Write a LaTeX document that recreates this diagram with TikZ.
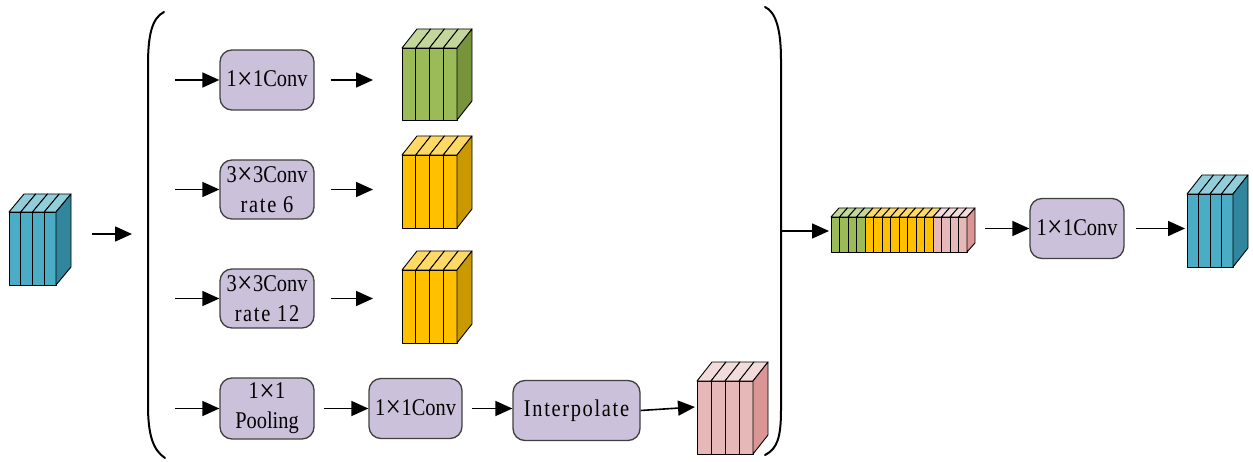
\documentclass[tikz,border=0pt]{standalone}
\usepackage{fontspec}
\setmainfont{Liberation Serif}
\newfontfamily\boxfont[FakeStretch=0.85]{Liberation Serif}
\usetikzlibrary{arrows.meta}

\definecolor{boxfill}{HTML}{CCC1DA}
\definecolor{boxline}{HTML}{404040}
% palettes: F = front, T = top, S = side
\definecolor{blueF}{HTML}{4BACC6}
\definecolor{blueT}{HTML}{92CDDC}
\definecolor{blueS}{HTML}{31859C}
\definecolor{greenF}{HTML}{9BBB59}
\definecolor{greenT}{HTML}{C3D69B}
\definecolor{greenS}{HTML}{77933C}
\definecolor{goldF}{HTML}{FFC000}
\definecolor{goldT}{HTML}{FFD966}
\definecolor{goldS}{HTML}{C99A00}
\definecolor{pinkF}{HTML}{E6B9B8}
\definecolor{pinkT}{HTML}{F2DCDB}
\definecolor{pinkS}{HTML}{D99694}

\tikzset{
  op/.style={draw=boxline, fill=boxfill, line width=1.3pt, rounded corners=12pt,
    minimum width=94pt, minimum height=60pt, align=center, inner sep=0pt,
    font=\boxfont\fontsize{24}{30}\selectfont},
  flow/.style={line width=1.6pt, -{Triangle[length=17pt,width=15pt]}},
  cube line/.style={draw=black, line width=0.9pt, line join=round},
  brace line/.style={line width=2pt, line cap=round}
}

% stacked feature slices: left, top, slice width, height, count, depth x, depth y, palette
\newcommand\slabs[8]{%
  \foreach \k in {1,...,#5}{
    \filldraw[cube line, fill=#8F] ({#1+(\k-1)*#3},#2) rectangle ++(#3,#4);
    \filldraw[cube line, fill=#8T] ({#1+(\k-1)*#3},#2) -- ++(#6,-#7) -- ++(#3,0) -- ++(-#6,#7) -- cycle;
  }}
% side face: right edge, top, height, depth x, depth y, palette
\newcommand\slabside[6]{%
  \filldraw[cube line, fill=#6S] (#1,#2) -- ++(#4,-#5) -- ++(0,#3) -- ++(-#4,#5) -- cycle;}

\newcommand\spaced[1]{{\addfontfeature{LetterSpace=7}#1}}
% wide multiplication sign
\newcommand\tm{\kern0.5pt\raisebox{-2.5pt}{\fontsize{32}{30}\selectfont ×}\kern0.5pt}

\begin{document}
\begin{tikzpicture}[x=1pt,y=-1pt]
\useasboundingbox (0,0) rectangle (1253,462);

% input feature map
\slabs{9}{212}{11.75}{73}{4}{15}{18}{blue}
\slabside{56}{212}{73}{15}{18}{blue}

% large bracket around the parallel branches
\draw[brace line] (164,12) .. controls (152,18) and (148,35) .. (148,65) -- (148,405)
  .. controls (148,435) and (153,450) .. (165,458);
\draw[brace line] (765,7) .. controls (776,12) and (781,30) .. (781,60) -- (781,410)
  .. controls (781,438) and (777,449) .. (765,455);

% operation boxes
\node[op] (c1) at (267,80) {1\tm1Conv};
\node[op, minimum height=59pt] (c2) at (267,189.5) {3\tm3Conv\\\spaced{rate 6}};
\node[op, minimum height=59pt] (c3) at (267,298.5) {3\tm3Conv\\\spaced{rate 12}};
\node[op, minimum height=61pt] (pool) at (267,408.5) {1\tm1\\Pooling};
\node[op, minimum width=93pt] (c4) at (415.5,408.5) {1\tm1Conv};
\node[op, minimum width=127pt] (interp) at (576.5,410.5) {\spaced{Interpolate}};
\node[op] (c5) at (1077,228.5) {1\tm1Conv};

% branch outputs
\slabs{402}{48}{13.75}{72}{4}{15}{19}{green}
\slabside{457}{48}{72}{15}{19}{green}
\slabs{402}{155}{13.75}{73}{4}{15}{19}{gold}
\slabside{457}{155}{73}{15}{19}{gold}
\slabs{402}{270}{13.75}{73}{4}{15}{19}{gold}
\slabside{457}{270}{73}{15}{19}{gold}
\slabs{697}{381}{14}{73}{4}{15}{19}{pink}
\slabside{753}{381}{73}{15}{19}{pink}

% concatenated map
\slabs{831}{217}{8.5}{35}{4}{8}{9}{green}
\slabs{865}{217}{8.5}{35}{8}{8}{9}{gold}
\slabs{933}{217}{8.5}{35}{4}{8}{9}{pink}
\slabside{967}{217}{35}{8}{9}{pink}

% output feature map
\slabs{1187}{194}{11.5}{73}{4}{15}{19}{blue}
\slabside{1233}{194}{73}{15}{19}{blue}

% connector end points
\coordinate (inS) at (92,234);
\coordinate (inE) at (132,234);
\coordinate (r1) at (175,80);
\coordinate (r2) at (175,189.5);
\coordinate (r3) at (175,298.5);
\coordinate (r4) at (175,408.5);
\coordinate (o1) at (373,80);
\coordinate (o2) at (373,189.5);
\coordinate (o3) at (373,298.5);
\coordinate (pk) at (695,407);
\coordinate (br) at (781,231);
\coordinate (st) at (829,231);
\coordinate (stE) at (985,228.5);
\coordinate (outc) at (1185,229);

% connectors
\draw[flow] (inS) -- (inE);
\draw[flow] (r1) -- (c1.west);
\draw[flow] (r2) -- (c2.west);
\draw[flow] (r3) -- (c3.west);
\draw[flow] (r4) -- (pool.west);
\draw[flow] ([xshift=16pt]c1.east) -- (o1);
\draw[flow] ([xshift=16pt]c2.east) -- (o2);
\draw[flow] ([xshift=16pt]c3.east) -- (o3);
\draw[flow] ([xshift=9pt]pool.east) -- (pool.east -| c4.west);
\draw[flow] ([xshift=9pt]c4.east) -- (c4.east -| interp.west);
\draw[flow] (interp.east) -- (pk);
\draw[flow] (br) -- (st);
\draw[flow] (stE) -- (c5.west);
\draw[flow] ([xshift=11pt]c5.east) -- (c5.east -| outc);
\end{tikzpicture}
\end{document}
